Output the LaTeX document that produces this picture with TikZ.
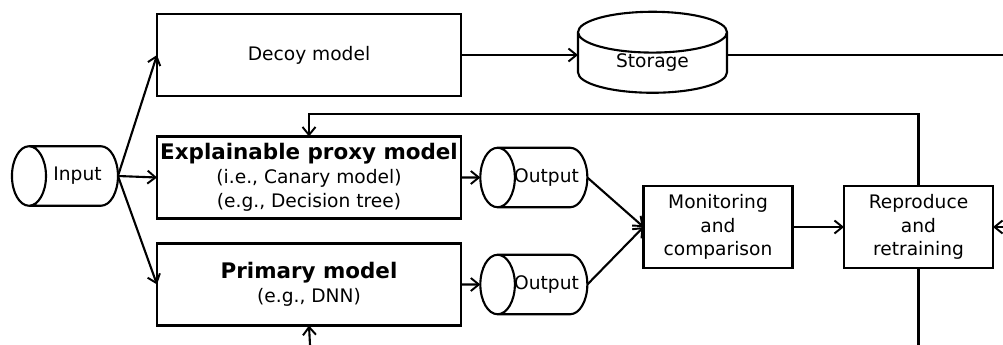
\documentclass[tikz,border=0pt]{standalone}
\usepackage{fontspec}
\setmainfont{DejaVu Sans}
\usetikzlibrary{arrows.meta,shapes.geometric}
\begin{document}
\begin{tikzpicture}[inner sep=0pt,outer sep=0pt,line width=1.2pt,
  >={Straight Barb[length=1.6mm,width=2.6mm,line width=1.1pt]},
  every node/.style={font=\fontsize{10.6}{13.5}\selectfont},
  model/.style={draw,rectangle,align=center,minimum width=6.08cm,minimum height=1.64cm},
  task/.style={draw,rectangle,align=center,minimum width=2.98cm,minimum height=1.64cm},
  datacyl/.style={draw,cylinder,shape border rotate=180,aspect=1.95,inner xsep=-5pt,
    execute at begin node={\hspace*{4pt}},minimum width=1.19cm,minimum height=2.12cm},
  storecyl/.style={draw,cylinder,shape border rotate=90,aspect=0.56,minimum width=2.98cm,minimum height=1.62cm}]
\useasboundingbox (0,0) rectangle (20.06,-6.9);
\draw (1.48,-3.52) node[datacyl] (input) {Input};
\draw (6.18,-1.10) node[model] (decoy) {Decoy model};
\draw (6.18,-3.55) node[model] (proxy) {{\fontsize{12.2}{14}\selectfont\bfseries Explainable proxy model}\\(i.e., Canary model)\\(e.g., Decision tree)};
\draw (6.18,-5.69) node[model] (primary) {{\fontsize{12.2}{14}\selectfont\bfseries Primary model}\\(e.g., DNN)};
\draw (13.05,-1.26) node[storecyl] (storage) {Storage};
\draw (10.86,-3.55) node[datacyl] (out1) {Output};
\draw (10.86,-5.69) node[datacyl] (out2) {Output};
\draw (14.36,-4.54) node[task] (monitor) {Monitoring\\and\\comparison};
\draw (18.37,-4.54) node[task] (retrain) {Reproduce\\and\\retraining};
\coordinate (storeend) at (20.06,-1.10);
\coordinate (feedin) at (20.06,-4.54);
\coordinate (retrainend) at (18.37,-6.9);
\coordinate (primaryin) at (6.20,-6.9);
\draw[->] (input.east) -- (decoy.west);
\draw[->] (input.east) -- (proxy.west);
\draw[->] (input.east) -- (primary.west);
\draw[->] (decoy.east) -- (decoy.east -| storage.west);
\draw (decoy.east -| storage.east) -- (storeend);
\draw[->] (proxy.east) -- (out1.west);
\draw[->] (primary.east) -- (out2.west);
\draw[->] (out1.east) -- (monitor.west);
\draw[->] (out2.east) -- (monitor.west);
\draw[->] (monitor.east) -- (retrain.west);
\draw[->] (feedin) -- (retrain.east);
\draw[->] (retrain.north) -- ++(0,1.44) -| (proxy.north);
\draw (retrain.south) -- (retrainend);
\draw[->] (primaryin) -- (primary.south);
\end{tikzpicture}
\end{document}
